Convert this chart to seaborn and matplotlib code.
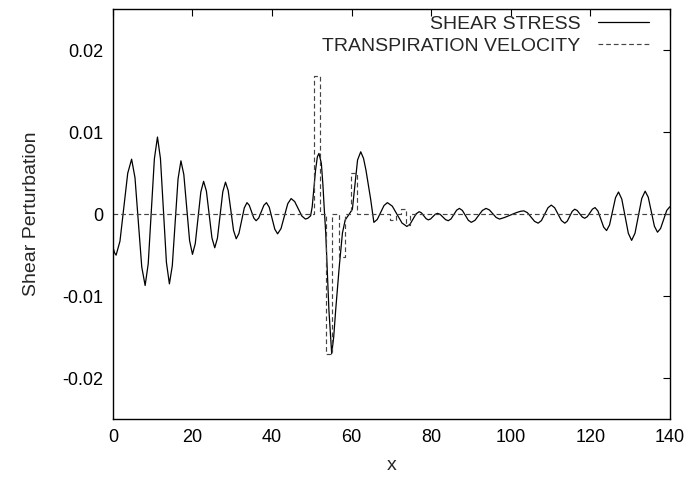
import matplotlib
matplotlib.use("Agg")
import matplotlib.pyplot as plt
import seaborn as sns
import pandas as pd

# ---- data ----
shear_x = [
    0.0, 0.4, 0.8, 1.775, 2.75, 3.725, 4.7, 5.55, 6.4, 7.25,
    8.1, 8.875, 9.65, 10.425, 11.2, 11.95, 12.7, 13.45, 14.2, 14.925,
    15.65, 16.375, 17.1, 17.825, 18.55, 19.275, 20.0, 20.7, 21.4, 22.1,
    22.8, 23.5, 24.2, 24.9, 25.6, 26.275, 26.95, 27.625, 28.3, 28.975,
    29.65, 30.325, 31.0, 31.675, 32.35, 33.025, 33.7, 34.275, 34.85, 35.425,
    36.0, 36.65, 37.3, 37.95, 38.6, 39.3, 40.0, 40.7, 41.4, 42.25,
    43.1, 43.95, 44.8, 45.7, 46.6, 47.5, 48.4, 49.0, 49.7, 50.1,
    50.5, 50.95, 51.4, 51.8, 52.4, 52.8, 53.1, 53.5, 54.3, 55.0,
    55.5, 56.0, 56.9, 57.7, 58.4, 59.4, 60.2, 60.8, 61.5, 62.3,
    63.0, 63.6, 64.8, 65.6, 66.45, 67.3, 68.15, 69.0, 70.225, 71.45,
    72.675, 73.9, 74.675, 75.45, 76.225, 77.0, 77.575, 78.15, 78.725, 79.3,
    79.875, 80.45, 81.025, 81.6, 82.275, 82.95, 83.625, 84.3, 85.0, 85.7,
    86.4, 87.1, 87.85, 88.6, 89.35, 90.1, 91.025, 91.95, 92.875, 93.8,
    94.65, 95.5, 96.35, 97.2, 98.5, 100.0, 101.5, 102.5, 103.3, 104.2,
    105.1, 106.0, 106.9, 107.725, 108.55, 109.375, 110.2, 111.05, 111.9, 112.75,
    113.6, 114.225, 114.85, 115.475, 116.1, 116.725, 117.35, 117.975, 118.6, 119.25,
    119.9, 120.55, 121.2, 121.925, 122.65, 123.375, 124.1, 124.85, 125.6, 126.35,
    127.1, 127.925, 128.75, 129.575, 130.4, 131.25, 132.1, 132.95, 133.8, 134.575,
    135.35, 136.125, 136.9, 137.675, 138.45, 139.225, 140.0,
]
shear_y = [
    -0.0040, -0.0047, -0.0050, -0.00329, 0.00085, 0.00499, 0.0067, 0.00444, -0.0010, -0.00644,
    -0.0087, -0.00605, 0.00035, 0.00675, 0.0094, 0.00678, 0.00045, -0.00588, -0.0085, -0.0063,
    -0.0010, 0.0043, 0.0065, 0.00483, 0.0008, -0.00323, -0.0049, -0.0036, -0.00045, 0.0027,
    0.0040, 0.00281, -0.00005, -0.00291, -0.0041, -0.00293, -0.0001, 0.00273, 0.0039, 0.00289,
    0.00045, -0.00199, -0.0030, -0.00236, -0.0008, 0.00076, 0.0014, 0.00108, 0.0003, -0.00048,
    -0.0008, -0.00048, 0.0003, 0.00108, 0.0014, 0.00084, -0.0005, -0.00184, -0.0024, -0.00177,
    -0.00025, 0.00127, 0.0019, 0.00153, 0.00065, -0.00023, -0.0006, -0.0005, -0.0002, 0.0009,
    0.0030, 0.0054, 0.0070, 0.0074, 0.0062, 0.0035, 0.0009, -0.0023, -0.0117, -0.0170,
    -0.0150, -0.0117, -0.0064, -0.0023, -0.0007, 0.0000, 0.0006, 0.0034, 0.0066, 0.0076,
    0.0068, 0.0054, 0.0018, -0.0010, -0.00065, 0.0002, 0.00105, 0.0014, 0.00098, -0.00005,
    -0.00108, -0.0015, -0.00124, -0.0006, 0.00004, 0.0003, 0.00015, -0.0002, -0.00055, -0.0007,
    -0.00058, -0.0003, -0.00002, 0.0001, -0.00003, -0.00035, -0.00067, -0.0008, -0.00058, -0.00005,
    0.00048, 0.0007, 0.00045, -0.00015, -0.00075, -0.0010, -0.00075, -0.00015, 0.00045, 0.0007,
    0.00051, 0.00005, -0.00041, -0.0006, -0.0004, -0.0001, 0.0002, 0.00035, 0.0004, 0.00018,
    -0.00035, -0.00088, -0.0011, -0.00078, 0.0, 0.00078, 0.0011, 0.00078, 0.0, -0.00078,
    -0.0011, -0.00085, -0.00025, 0.00035, 0.0006, 0.00044, 0.00005, -0.00034, -0.0005, -0.00031,
    0.00015, 0.00061, 0.0008, 0.00039, -0.0006, -0.00159, -0.0020, -0.00131, 0.00035, 0.00201,
    0.0027, 0.00184, -0.00025, -0.00234, -0.0032, -0.00232, -0.0002, 0.00192, 0.0028, 0.00207,
    0.0003, -0.00147, -0.0022, -0.00175, -0.00065, 0.00045, 0.0009,
]

# transpiration velocity: piecewise constant, value holds from edge to next edge
trans_x = [0.0, 50.5, 52.0, 53.5, 55.2, 56.85, 58.35, 59.95, 61.45, 69.6, 71.1, 72.4, 73.8, 74.6, 140.0]
trans_y = [0.0, 0.0168, 0.0, -0.0170, 0.0, -0.0052, 0.0, 0.0050, 0.0, -0.0007, 0.0, 0.0006, -0.0013, 0.0, 0.0]

x_ticks = [0, 20, 40, 60, 80, 100, 120, 140]
y_ticks = [-0.02, -0.01, 0.0, 0.01, 0.02]
y_tick_labels = ["-0.02", "-0.01", "0", "0.01", "0.02"]

series_names = ["SHEAR STRESS", "TRANSPIRATION VELOCITY"]

# ---- plotting ----
sns.set_style("white")
plt.rcParams["font.family"] = ["Liberation Sans", "DejaVu Sans"]

fig = plt.figure(figsize=(6.97, 4.78), dpi=100)
ax = fig.add_axes([0.162, 0.123, 0.799, 0.858])

shear_df = pd.DataFrame({"x": shear_x, "y": shear_y})
trans_df = pd.DataFrame({"x": trans_x, "y": trans_y})

sns.lineplot(data=shear_df, x="x", y="y", ax=ax, color="black", linewidth=0.9,
             sort=False, estimator=None, label=series_names[0])
sns.lineplot(data=trans_df, x="x", y="y", ax=ax, color="#444444", linewidth=0.85,
             sort=False, estimator=None, drawstyle="steps-post",
             dashes=False, label=series_names[1])
ax.lines[-1].set_dashes([4, 2.5])

ax.set_xlim(0, 140)
ax.set_ylim(-0.025, 0.025)
ax.set_xticks(x_ticks)
ax.set_xticklabels([str(t) for t in x_ticks])
ax.set_yticks(y_ticks)
ax.set_yticklabels(y_tick_labels)
ax.tick_params(direction="in", length=5, width=0.8, top=True, right=True,
               labelsize=13, colors="black", pad=7)
for s in ax.spines.values():
    s.set_color("black")
    s.set_linewidth(1.0)

ax.set_xlabel("x", fontsize=14, labelpad=8)
ax.set_ylabel("Shear Perturbation", fontsize=14, labelpad=16)

leg = ax.legend(loc="upper right", bbox_to_anchor=(0.962, 0.984), frameon=False,
                markerfirst=False, fontsize=14, handlelength=2.6, handletextpad=0.9,
                borderpad=0, borderaxespad=0, labelspacing=0.22)

fig.savefig("out.png", dpi=100)
